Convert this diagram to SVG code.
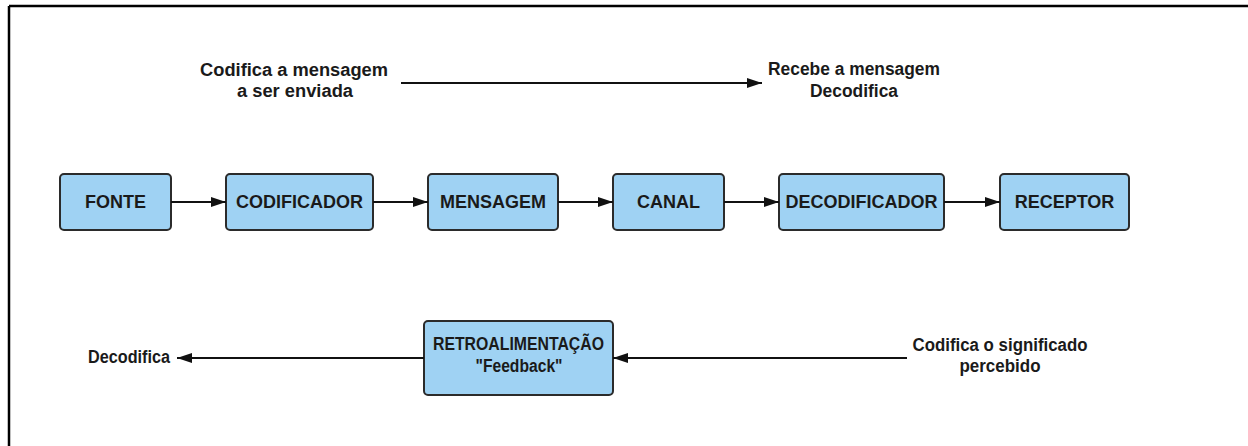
<svg xmlns="http://www.w3.org/2000/svg" width="1248" height="446" viewBox="0 0 1248 446">
  <style>
    .box { fill: #9fd2f3; stroke: #2b2b2b; stroke-width: 2; }
    .lbl { font-family: "Liberation Sans", Arial, sans-serif; font-weight: bold; font-size: 18px; fill: #1a1a1a; text-anchor: middle; }
    .edge { stroke: #111; stroke-width: 2; fill: none; marker-end: url(#arrow); }
  </style>
  <defs>
    <marker id="arrow" viewBox="0 0 15 10" refX="15" refY="5" markerWidth="15" markerHeight="10" markerUnits="userSpaceOnUse" orient="auto">
      <path d="M0,0 L15,5 L0,10 Z" fill="#111"/>
    </marker>
  </defs>
  <rect width="1248" height="446" fill="#fff"/>

  <!-- frame: top and left edges -->
  <path d="M9,6 H1248 M9,6 V446" stroke="#000" stroke-width="2.5" fill="none"/>

  <!-- annotations -->
  <g id="note-encode">
    <text class="lbl" x="294" y="76" textLength="188" lengthAdjust="spacingAndGlyphs">Codifica a mensagem</text>
    <text class="lbl" x="295" y="97" textLength="116" lengthAdjust="spacingAndGlyphs">a ser enviada</text>
  </g>
  <g id="note-receive">
    <text class="lbl" x="854" y="75" textLength="172" lengthAdjust="spacingAndGlyphs">Recebe a mensagem</text>
    <text class="lbl" x="854" y="97" textLength="88" lengthAdjust="spacingAndGlyphs">Decodifica</text>
  </g>
  <g id="note-decode">
    <text class="lbl" x="129" y="363" textLength="82" lengthAdjust="spacingAndGlyphs">Decodifica</text>
  </g>
  <g id="note-meaning">
    <text class="lbl" x="1000" y="351" textLength="175" lengthAdjust="spacingAndGlyphs">Codifica o significado</text>
    <text class="lbl" x="1000" y="372" textLength="81" lengthAdjust="spacingAndGlyphs">percebido</text>
  </g>

  <!-- main chain -->
  <g id="fonte">
    <rect class="box" x="60" y="174" width="111" height="56" rx="4"/>
    <text class="lbl" x="115.5" y="208">FONTE</text>
  </g>
  <g id="codificador">
    <rect class="box" x="226" y="174" width="147" height="56" rx="4"/>
    <text class="lbl" x="299.5" y="208">CODIFICADOR</text>
  </g>
  <g id="mensagem">
    <rect class="box" x="428" y="174" width="130" height="56" rx="4"/>
    <text class="lbl" x="493" y="208">MENSAGEM</text>
  </g>
  <g id="canal">
    <rect class="box" x="613" y="174" width="111" height="56" rx="4"/>
    <text class="lbl" x="668.5" y="208">CANAL</text>
  </g>
  <g id="decodificador">
    <rect class="box" x="779" y="174" width="165" height="56" rx="4"/>
    <text class="lbl" x="861.5" y="208">DECODIFICADOR</text>
  </g>
  <g id="receptor">
    <rect class="box" x="1000" y="174" width="129" height="56" rx="4"/>
    <text class="lbl" x="1064.5" y="208">RECEPTOR</text>
  </g>

  <!-- feedback -->
  <g id="retroalimentacao">
    <rect class="box" x="424" y="321" width="189" height="74" rx="4"/>
    <text class="lbl" x="518.5" y="350" textLength="171" lengthAdjust="spacingAndGlyphs">RETROALIMENTAÇÃO</text>
    <text class="lbl" x="519" y="372" textLength="87" lengthAdjust="spacingAndGlyphs">"Feedback"</text>
  </g>

  <g id="connectors">
    <path class="edge" d="M401,83 H762"/>
    <path class="edge" d="M171,202 H226"/>
    <path class="edge" d="M373,202 H428"/>
    <path class="edge" d="M558,202 H613"/>
    <path class="edge" d="M724,202 H779"/>
    <path class="edge" d="M944,202 H1000"/>
    <path class="edge" d="M907,358 H613"/>
    <path class="edge" d="M424,358 H177"/>
  </g>
</svg>
